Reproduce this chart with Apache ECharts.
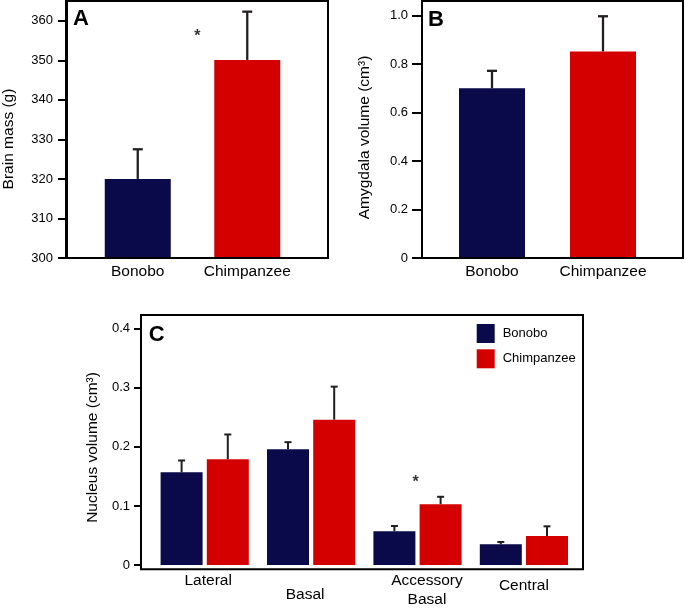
<!DOCTYPE html>
<html><head><meta charset="utf-8">
<script src="https://cdn.jsdelivr.net/npm/echarts@6/dist/echarts.min.js"></script>
<style>html,body{margin:0;padding:0;background:#fff}#c{width:685px;height:609px}</style>
</head><body><div id="c"></div>
<script>
// ---- data ----
const speciesCats = ['Bonobo', 'Chimpanzee'];
const brainMass = [320.0, 350.1];
const brainMassSE = [7.5, 12.2];
const brainTicks = [300, 310, 320, 330, 340, 350, 360];
const amygVol = [0.70, 0.852];
const amygSE = [0.072, 0.145];
const amygTicks = [0, 0.2, 0.4, 0.6, 0.8, 1.0];
const nucleusCats = ['Lateral', 'Basal', 'Accessory\nBasal', 'Central'];
const bonoboNuc = [0.157, 0.196, 0.057, 0.035];
const bonoboNucSE = [0.020, 0.012, 0.009, 0.004];
const chimpNuc = [0.179, 0.246, 0.103, 0.049];
const chimpNucSE = [0.042, 0.056, 0.0125, 0.0165];
const nucTicks = [0, 0.1, 0.2, 0.3, 0.4];
const starA = ['Chimpanzee', 356.9];
const starC = ['Accessory\nBasal', 0.146];

// ---- styles ----
const NAVY = '#0a0a4a', RED = '#d40000', ERR = '#231f20';
const FONT = '"Liberation Sans", Arial, Helvetica, sans-serif';
const speciesColors = [NAVY, RED];

const chart = echarts.init(document.getElementById('c'), null, {renderer: 'canvas'});

function errRender(offset, half, lw) {
  return function (params, api) {
    const i = api.value(0), m = api.value(1), t = api.value(2);
    const p0 = api.coord([i, m]);
    const p1 = api.coord([i, t]);
    const x = p0[0] + offset;
    return {
      type: 'group',
      children: [
        {type: 'line', shape: {x1: x, y1: p0[1], x2: x, y2: p1[1]}, style: {stroke: ERR, lineWidth: lw}},
        {type: 'line', shape: {x1: x - half, y1: p1[1], x2: x + half, y2: p1[1]}, style: {stroke: ERR, lineWidth: lw}}
      ]
    };
  };
}
function errData(vals, se) { return vals.map((v, i) => [i, v, v + se[i]]); }

function yAx(gridIndex, min, max, ticks, offset, name, nameGap, shift, tickLen, margin, fmt) {
  return {
    type: 'value', gridIndex, min, max, offset,
    name, nameLocation: 'middle', nameGap,
    nameTextStyle: {fontFamily: FONT, fontSize: 15.5, color: '#000', padding: [0, shift, 0, 0]},
    axisLine: {show: true, lineStyle: {color: '#000', width: 2}},
    axisTick: {show: true, length: tickLen, customValues: ticks, lineStyle: {color: '#000', width: 2}},
    axisLabel: {customValues: ticks, margin, fontFamily: FONT, fontSize: 13, color: '#000', formatter: fmt},
    splitLine: {show: false}
  };
}
const decFmt = v => (v === 0 ? '0' : v.toFixed(1));

const cLabelStyles = [
  {padding: [0, 0, 0, 7]},
  {padding: [14, 12, 0, 0]},
  {padding: [0, 0, 0, 19]},
  {padding: [5, 0, 0, 0]}
];
const xLab = {margin: 6, fontFamily: FONT, fontSize: 15.5, color: '#000', interval: 0, hideOverlap: false};

const option = {
  animation: false,
  backgroundColor: '#fff',
  textStyle: {fontFamily: FONT},
  grid: [
    {left: 82, top: 1, width: 220, height: 257},
    {left: 436.5, top: 1, width: 222, height: 257},
    {left: 151.5, top: 315, width: 425.6, height: 254.3}
  ],
  xAxis: [
    {type: 'category', gridIndex: 0, data: speciesCats, axisLine: {show: false}, axisTick: {show: false},
     axisLabel: xLab},
    {type: 'category', gridIndex: 1, data: speciesCats, axisLine: {show: false}, axisTick: {show: false},
     axisLabel: xLab},
    {type: 'category', gridIndex: 2,
     data: nucleusCats.map((c, i) => ({value: c, textStyle: cLabelStyles[i]})),
     axisLine: {show: false}, axisTick: {show: false},
     axisLabel: Object.assign({}, xLab, {lineHeight: 19})}
  ],
  yAxis: [
    yAx(0, 300, 365, brainTicks, 16, 'Brain mass (g)', 50, 19, 9, 14, v => String(v)),
    yAx(1, 0, 1.06, amygTicks, 14.5, 'Amygdala volume (cm\u00b3)', 49, 16, 10, 14, decFmt),
    yAx(2, 0, 0.4233, nucTicks, 10.5, 'Nucleus volume (cm\u00b3)', 40, 15, 7, 11, decFmt)
  ],
  legend: {
    data: ['Bonobo', 'Chimpanzee'], orient: 'vertical', left: 476.7, top: 324,
    itemWidth: 18, itemHeight: 19, itemGap: 6.3, icon: 'rect', padding: 0,
    textStyle: {fontFamily: FONT, fontSize: 13, color: '#000', padding: [0, 0, 0, 3]}
  },
  series: [
    {type: 'bar', name: 'Brain mass', xAxisIndex: 0, yAxisIndex: 0, barWidth: 66,
     data: brainMass.map((v, i) => ({value: v, itemStyle: {color: speciesColors[i]}}))},
    {type: 'custom', xAxisIndex: 0, yAxisIndex: 0, z: 5, renderItem: errRender(0, 5, 2.3),
     data: errData(brainMass, brainMassSE)},
    {type: 'bar', name: 'Amygdala', xAxisIndex: 1, yAxisIndex: 1, barWidth: 66,
     data: amygVol.map((v, i) => ({value: v, itemStyle: {color: speciesColors[i]}}))},
    {type: 'custom', xAxisIndex: 1, yAxisIndex: 1, z: 5, renderItem: errRender(0, 5, 2.3),
     data: errData(amygVol, amygSE)},
    {type: 'bar', name: 'Bonobo', xAxisIndex: 2, yAxisIndex: 2, barWidth: 42, barGap: '10%',
     itemStyle: {color: NAVY}, data: bonoboNuc},
    {type: 'bar', name: 'Chimpanzee', xAxisIndex: 2, yAxisIndex: 2, barWidth: 42, barGap: '10%',
     itemStyle: {color: RED}, data: chimpNuc},
    {type: 'custom', xAxisIndex: 2, yAxisIndex: 2, z: 5, renderItem: errRender(-23.1, 3.5, 2),
     data: errData(bonoboNuc, bonoboNucSE)},
    {type: 'custom', xAxisIndex: 2, yAxisIndex: 2, z: 5, renderItem: errRender(23.1, 3.5, 2),
     data: errData(chimpNuc, chimpNucSE)},
    {type: 'scatter', xAxisIndex: 0, yAxisIndex: 0, symbolSize: 1, itemStyle: {color: 'transparent'},
     label: {show: true, position: 'inside', formatter: '*', fontSize: 16, fontWeight: 'bold', color: '#000', offset: [-50, 4]},
     data: [starA]},
    {type: 'scatter', xAxisIndex: 2, yAxisIndex: 2, symbolSize: 1, itemStyle: {color: 'transparent'},
     label: {show: true, position: 'inside', formatter: '*', fontSize: 16, fontWeight: 'bold', color: '#000', offset: [-2, 4]},
     data: [starC]}
  ],
  graphic: [
    {type: 'rect', shape: {x: 66, y: 1, width: 262, height: 257}, style: {fill: 'none', stroke: '#000', lineWidth: 2}, z: 10},
    {type: 'rect', shape: {x: 422, y: 1, width: 261, height: 257}, style: {fill: 'none', stroke: '#000', lineWidth: 2}, z: 10},
    {type: 'rect', shape: {x: 141, y: 315, width: 442, height: 254.3}, style: {fill: 'none', stroke: '#000', lineWidth: 2}, z: 10},
    {type: 'text', x: 81, y: 19, z: 10, style: {text: 'A', font: 'bold 22px ' + FONT, fill: '#000', align: 'center', verticalAlign: 'middle'}},
    {type: 'text', x: 436, y: 20, z: 10, style: {text: 'B', font: 'bold 22px ' + FONT, fill: '#000', align: 'center', verticalAlign: 'middle'}},
    {type: 'text', x: 156.7, y: 334.7, z: 10, style: {text: 'C', font: 'bold 22px ' + FONT, fill: '#000', align: 'center', verticalAlign: 'middle'}}
  ]
};
chart.setOption(option);
</script>
</body></html>
